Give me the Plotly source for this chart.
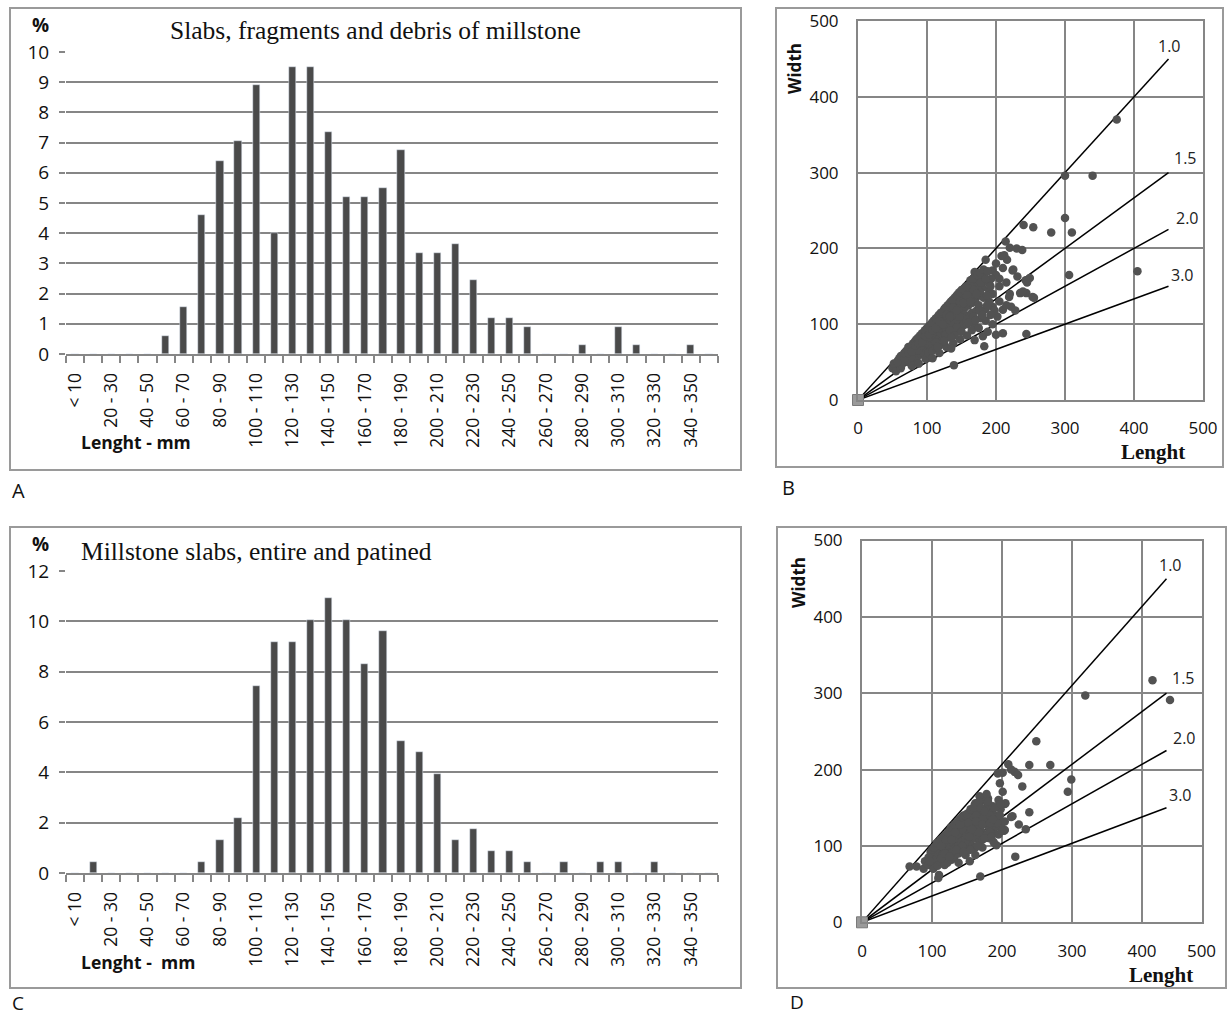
import plotly.graph_objects as go

W, H = 1227, 1016

# ---------------- data ----------------
length_classes = ["< 10", "10 - 20", "20 - 30", "30 - 40", "40 - 50", "50 - 60", "60 - 70",
                  "70 - 80", "80 - 90", "90 - 100", "100 - 110", "110 - 120", "120 - 130",
                  "130 - 140", "140 - 150", "150 - 160", "160 - 170", "170 - 180", "180 - 190",
                  "190 - 200", "200 - 210", "210 - 220", "220 - 230", "230 - 240", "240 - 250",
                  "250 - 260", "260 - 270", "270 - 280", "280 - 290", "290 - 300", "300 - 310",
                  "310 - 320", "320 - 330", "330 - 340", "340 - 350", "> 350"]

# Panel A: slabs, fragments and debris (%)
share_a = [0, 0, 0, 0, 0, 0.6, 1.55, 4.6, 6.4, 7.05, 8.9, 4.0, 9.5, 9.5, 7.35, 5.2, 5.2, 5.5,
           6.75, 3.35, 3.35, 3.65, 2.45, 1.2, 1.2, 0.9, 0, 0, 0.3, 0, 0.9, 0.3, 0, 0, 0.3, 0]

# Panel C: millstone slabs, entire and patined (%)
share_c = [0, 0.44, 0, 0, 0, 0, 0, 0.44, 1.3, 2.18, 7.43, 9.17, 9.17, 10.04, 10.92, 10.04,
           8.3, 9.6, 5.24, 4.8, 3.93, 1.31, 1.75, 0.87, 0.87, 0.44, 0, 0.44, 0, 0.44, 0.44,
           0, 0.44, 0, 0, 0]

# Panel B: length / width of slabs, fragments and debris
b_points = [
    (375, 370), (300, 296), (340, 296), (300, 240), (280, 221), (310, 221), (306, 165), (405, 170),
    (244, 87), (240, 231), (254, 228), (139, 46), (255, 135), (244, 141), (235, 141), (249, 161),
    (245, 155), (231, 163), (225, 172), (220, 201), (230, 200), (238, 198), (214, 209), (212, 191),
    (216, 185), (185, 185), (195, 171), (210, 174), (224, 171), (169, 169), (183, 165), (173, 160),
    (164, 150), (178, 152), (190, 154), (205, 160), (243, 158), (239, 143), (253, 136), (219, 136),
    (222, 123), (210, 119), (195, 123), (202, 110), (200, 86), (210, 88), (181, 84), (169, 79),
    (183, 71), (228, 118), (215, 125), (220, 140), (205, 150), (215, 155), (200, 165), (195, 140),
    (205, 130), (200, 180), (208, 190), (190, 130), (198, 118),
    (50, 42), (55, 45), (55, 38),
    (60, 55), (60, 48), (62, 42), (65, 58), (65, 50),
    (70, 65), (70, 58), (72, 50), (75, 68), (75, 60), (75, 52), (78, 45),
    (80, 75), (80, 68), (80, 60), (82, 52), (85, 80), (85, 70), (85, 62), (85, 55), (88, 48),
    (90, 85), (90, 76), (90, 68), (92, 60), (95, 88), (95, 78), (95, 70), (95, 62), (98, 54),
    (100, 95), (100, 85), (100, 78), (100, 70), (102, 62), (105, 98), (105, 90), (105, 80),
    (105, 72), (108, 65), (108, 55),
    (110, 105), (110, 95), (110, 88), (110, 80), (112, 70), (115, 108), (115, 98), (115, 90),
    (115, 82), (118, 72), (118, 62),
    (120, 115), (120, 105), (120, 95), (120, 88), (122, 78), (125, 120), (125, 110), (125, 100),
    (125, 90), (128, 82), (128, 70),
    (130, 125), (130, 115), (130, 105), (130, 95), (132, 85), (135, 130), (135, 118), (135, 108),
    (135, 98), (138, 88), (138, 75), (135, 68),
    (140, 135), (140, 122), (140, 112), (140, 100), (142, 90), (145, 140), (145, 128), (145, 115),
    (145, 105), (148, 95), (148, 80),
    (150, 145), (150, 132), (150, 120), (150, 108), (152, 98), (155, 148), (155, 135), (155, 122),
    (155, 112), (158, 100), (158, 85),
    (160, 150), (160, 138), (160, 125), (162, 112), (165, 155), (165, 140), (165, 128), (165, 115),
    (168, 100), (165, 92),
    (170, 160), (170, 145), (170, 132), (172, 118), (175, 150), (175, 138), (175, 125), (178, 108),
    (175, 95),
    (180, 165), (180, 148), (182, 135), (185, 120), (185, 105), (188, 90), (190, 145), (190, 128),
    (192, 112), (195, 100),
    (58, 52), (63, 46), (68, 62), (72, 66), (77, 56), (83, 78), (87, 66), (93, 82), (97, 74),
    (103, 92), (107, 86), (112, 100), (117, 94), (123, 108), (127, 96), (133, 120), (137, 112),
    (143, 132), (147, 122), (153, 140), (157, 128), (163, 145), (167, 135), (173, 150), (177, 142),
    (183, 156), (187, 138), (193, 160), (113, 76), (127, 86), (143, 96), (157, 106), (167, 110),
    (176, 118), (187, 125), (133, 92), (147, 110), (118, 100), (102, 82), (92, 72),
    (52, 48), (57, 50), (62, 58), (67, 55), (67, 62), (73, 70), (73, 62), (78, 72), (78, 64),
    (83, 72), (87, 82), (88, 75), (93, 88), (93, 76), (97, 92), (98, 84), (103, 98), (103, 86),
    (107, 102), (108, 92), (113, 108), (113, 95), (117, 112), (118, 104), (123, 116), (123, 100),
    (127, 122), (128, 112), (133, 128), (133, 110), (137, 132), (138, 122), (143, 138), (143, 118),
    (147, 142), (148, 130), (153, 146), (153, 128), (157, 150), (158, 138), (163, 158), (163, 130),
    (167, 160), (168, 145), (173, 165), (172, 140), (177, 168), (178, 155), (182, 172), (185, 160),
    (188, 170), (192, 150), (140, 85), (150, 90), (160, 102), (170, 105), (180, 112), (125, 78),
    (135, 82), (115, 70),
]

# Panel D: length / width of entire patined slabs
d_points = [
    (415, 317), (440, 291), (319, 297), (249, 237), (239, 206), (269, 206), (299, 187), (294, 171),
    (239, 144), (234, 122), (219, 86), (169, 60), (229, 178), (223, 193), (218, 197), (213, 200),
    (209, 207), (201, 196), (197, 182), (194, 195), (201, 171), (224, 128), (215, 139), (205, 156),
    (204, 132), (204, 121), (192, 101), (162, 156), (180, 162), (178, 147), (154, 80), (109, 58),
    (78, 73), (68, 73), (161, 154), (176, 164), (204, 155), (185, 144), (213, 138), (203, 120),
    (88, 70), (90, 80), (95, 85), (95, 75), (98, 92), (100, 88), (100, 78), (102, 70),
    (105, 100), (105, 92), (105, 82), (108, 74), (110, 62),
    (110, 105), (110, 95), (110, 88), (112, 80), (115, 110), (115, 100), (115, 92), (118, 85),
    (118, 75), (120, 115), (120, 105), (120, 96), (122, 88), (122, 78),
    (125, 120), (125, 110), (125, 100), (128, 92), (128, 82), (130, 125), (130, 115), (130, 105),
    (132, 96), (132, 86), (135, 130), (135, 120), (135, 110), (138, 100), (138, 90), (138, 78),
    (140, 135), (140, 125), (140, 115), (142, 105), (142, 95), (145, 140), (145, 128), (145, 118),
    (148, 108), (148, 98), (148, 88),
    (150, 135), (150, 125), (150, 115), (152, 105), (152, 95), (155, 140), (155, 130), (155, 120),
    (158, 110), (158, 100), (160, 145), (160, 132), (160, 120), (162, 110), (162, 98), (162, 88),
    (165, 150), (165, 138), (165, 125), (168, 115), (168, 105), (170, 142), (170, 130), (170, 120),
    (172, 108), (172, 98),
    (175, 160), (175, 140), (178, 128), (178, 115), (180, 150), (180, 135), (182, 122), (182, 110),
    (185, 145), (185, 130), (188, 118), (188, 105), (190, 140), (192, 125), (195, 135), (195, 115),
    (198, 148), (200, 130), (200, 120), (165, 155), (170, 160), (168, 165), (178, 168),
    (112, 92), (117, 104), (123, 112), (127, 118), (133, 126), (137, 116), (143, 122), (147, 132),
    (153, 126), (157, 136), (163, 140), (167, 128), (173, 136), (177, 150), (183, 140), (187, 152),
    (193, 130), (197, 140), (113, 84), (127, 90), (143, 100), (153, 112), (167, 118), (183, 118),
    (107, 96), (97, 80),
    (100, 95), (103, 98), (107, 104), (112, 108), (113, 100), (117, 112), (120, 108), (123, 118),
    (127, 124), (128, 108), (132, 128), (133, 118), (137, 132), (140, 128), (143, 138), (147, 140),
    (150, 142), (152, 130), (155, 148), (157, 122), (160, 150), (163, 132), (167, 158), (170, 150),
    (172, 128), (175, 145), (180, 158), (183, 130), (187, 135), (190, 150), (195, 160), (118, 90),
    (125, 86), (135, 95), (145, 92), (155, 95), (165, 100), (175, 110), (185, 112), (198, 155),
]

# ratio lines (length / width) drawn from origin
ratio_labels = ["1.0", "1.5", "2.0", "3.0"]
ratio_end_width = [450, 300, 225, 150]
ratio_end_length_b = 450
ratio_end_length_d = 435
ratio_label_pos_b = [(452, 467), (474, 319), (477, 240), (470, 165)]
ratio_label_pos_d = [(440, 468), (459, 320), (461, 241), (455, 167)]

# D x-axis as printed (tick positions on the drawn grid)
d_tickvals = [0, 100, 200, 300, 400, 485]
d_ticktext = ["0", "100", "200", "300", "400", "500"]

# ---------------- styling ----------------
GRID = "#868686"
BAR = "#4a4a4a"
DOT = "#525252"
SANS = "Open Sans"
SERIF = "Liberation Serif"


def px(x):
    return x / W


def py(y):
    return 1 - y / H


fig = go.Figure()

idx = list(range(len(length_classes)))
fig.add_trace(go.Bar(x=idx, y=share_a, width=0.4, marker_color=BAR, xaxis="x", yaxis="y",
                     hovertext=length_classes))
fig.add_trace(go.Bar(x=idx, y=share_c, width=0.4, marker_color=BAR, xaxis="x3", yaxis="y3",
                     hovertext=length_classes))

for pts, xa, ya, xend, lpos in [(b_points, "x2", "y2", ratio_end_length_b, ratio_label_pos_b),
                                (d_points, "x4", "y4", ratio_end_length_d, ratio_label_pos_d)]:
    for wend in ratio_end_width:
        fig.add_trace(go.Scatter(x=[0, xend], y=[0, wend], mode="lines",
                                 line=dict(color="black", width=1.5),
                                 xaxis=xa, yaxis=ya, hoverinfo="skip", cliponaxis=False))
    fig.add_trace(go.Scatter(x=[p[0] for p in pts], y=[p[1] for p in pts], mode="markers",
                             marker=dict(color=DOT, size=8.5), xaxis=xa, yaxis=ya,
                             cliponaxis=False))
    fig.add_trace(go.Scatter(x=[0], y=[0], mode="markers",
                             marker=dict(symbol="square", size=11, color="#9a9a9a",
                                         line=dict(color="#7a7a7a", width=1)),
                             xaxis=xa, yaxis=ya, cliponaxis=False))
    for lab, (lx, ly) in zip(ratio_labels, lpos):
        fig.add_annotation(x=lx, y=ly, xref=xa, yref=ya, text=lab, showarrow=False,
                           font=dict(family=SANS, size=16, color="#222"))

even_vals = [i for i in idx if i % 2 == 0]
even_text = [length_classes[i] for i in even_vals]


def bar_xaxis(domain, anchor):
    return dict(domain=domain, anchor=anchor, range=[-0.5, len(length_classes) - 0.5],
                tickmode="array", tickvals=even_vals, ticktext=even_text, tickangle=-90,
                ticks="", showgrid=False, zeroline=False, showline=True, linecolor=GRID,
                linewidth=2, tickfont=dict(family=SANS, size=17.5, color="#111"),
                ticklabelstandoff=10, automargin=False,
                minor=dict(tickmode="array", tickvals=[i - 0.5 for i in range(len(length_classes) + 1)],
                           ticks="outside", ticklen=7, tickcolor=GRID, tickwidth=1.5,
                           showgrid=False))


def bar_yaxis(domain, anchor, rng, dtick):
    return dict(domain=domain, anchor=anchor, range=rng, dtick=dtick, showgrid=True,
                gridcolor=GRID, gridwidth=2, zeroline=False, showline=False, ticks="outside",
                ticklen=6, tickcolor=GRID, tickwidth=1.5, automargin=False,
                ticklabelstandoff=6,
                tickfont=dict(family=SANS, size=19, color="#111"))


def sc_axis(domain, anchor, rng, standoff, **kw):
    d = dict(domain=domain, anchor=anchor, range=rng, dtick=100, showgrid=True, gridcolor=GRID,
             gridwidth=2, zeroline=False, showline=True, mirror=True, linecolor=GRID,
             linewidth=2, ticks="", tickfont=dict(family=SANS, size=17, color="#111"),
             ticklabelstandoff=standoff, automargin=False)
    d.update(kw)
    return d


fig.update_layout(
    width=W, height=H, margin=dict(l=0, r=0, t=0, b=0, pad=0, autoexpand=False),
    paper_bgcolor="white", plot_bgcolor="white", showlegend=False, bargap=0,
    xaxis=bar_xaxis([px(66), px(718)], "y"),
    yaxis=bar_yaxis([py(354), py(52)], "x", [0, 10], 1),
    xaxis3=bar_xaxis([px(66), px(718)], "y3"),
    yaxis3=bar_yaxis([py(873), py(571)], "x3", [0, 12], 2),
    xaxis2=sc_axis([px(858), px(1203)], "y2", [0, 500], 12),
    yaxis2=sc_axis([py(400), py(21)], "x2", [0, 500], 14),
    xaxis4=sc_axis([px(862), px(1201.5)], "y4", [0, 485], 12, tickmode="array",
                   tickvals=d_tickvals, ticktext=d_ticktext),
    yaxis4=sc_axis([py(922.3), py(540.5)], "x4", [0, 500], 14),
)

# panel frames
for x0, y0, x1, y1 in [(10, 8, 741, 470), (776, 8, 1223, 467), (10, 527, 741, 988),
                       (777, 527, 1226, 988)]:
    fig.add_shape(type="rect", xref="paper", yref="paper", x0=px(x0), x1=px(x1), y0=py(y0),
                  y1=py(y1), line=dict(color="#9a9a9a", width=2), layer="below")


def note(x, y, text, size, family=SANS, bold=False, angle=0, xanchor="center"):
    if bold:
        text = "<b>" + text + "</b>"
    fig.add_annotation(x=px(x), y=py(y), xref="paper", yref="paper", text=text, showarrow=False,
                       textangle=angle, xanchor=xanchor, yanchor="middle",
                       font=dict(family=family, size=size, color="#111"))


note(375, 31, "Slabs, fragments and debris of millstone", 25.5, SERIF)
note(40, 25, "%", 19, bold=True)
note(79, 442, "Lenght - mm", 17.5, bold=True, xanchor="left")
note(256, 551, "Millstone slabs, entire and patined", 25.5, SERIF)
note(40, 544, "%", 19, bold=True)
note(79, 962, "Lenght -  mm", 17.5, bold=True, xanchor="left")

note(795, 69, "Width", 17, bold=True, angle=-90)
note(1153, 452, "Lenght", 21, SERIF, bold=True)
note(798, 583, "Width", 17, bold=True, angle=-90)
note(1161, 975, "Lenght", 21, SERIF, bold=True)

note(18, 490, "A", 20)
note(788, 487, "B", 20)
note(18, 1003, "C", 19)
note(797, 1002, "D", 19)

pin_script = """
var gd = document.getElementById('{plot_id}');
document.documentElement.style.margin = '0';
document.documentElement.style.overflow = 'hidden';
document.body.style.margin = '0';
document.body.style.padding = '0';
document.body.style.overflow = 'hidden';
gd.style.position = 'fixed';
gd.style.left = '0px';
gd.style.top = '0px';
"""

fig.write_html("out.html", config={"displayModeBar": False}, post_script=pin_script)
